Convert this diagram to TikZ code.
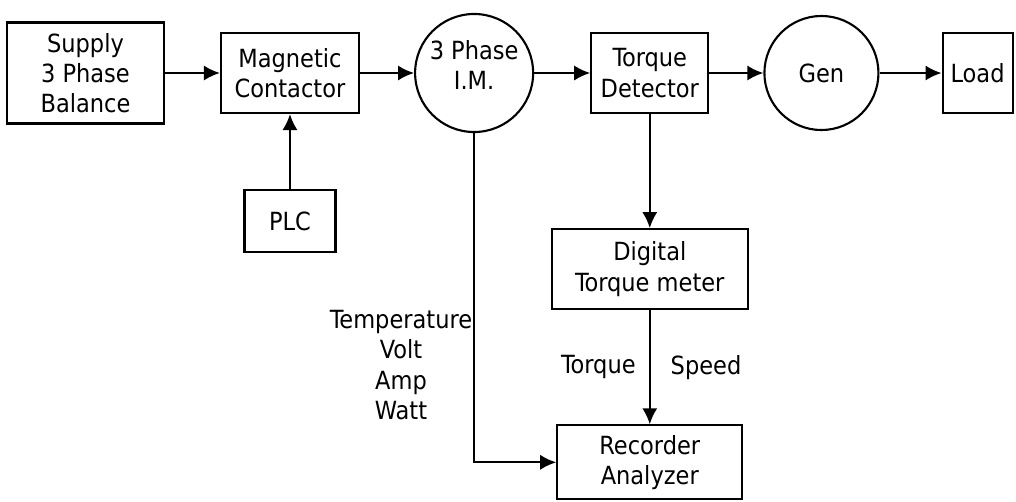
\documentclass[tikz,border=0pt]{standalone}
\usepackage{fontspec}
\setsansfont{DejaVu Sans Condensed}
\usetikzlibrary{arrows.meta,positioning}

\begin{document}
\begin{tikzpicture}[
  x=0.025cm, y=-0.025cm,
  font=\sffamily\fontsize{17.8}{21.5}\selectfont,
  box/.style={draw, line width=1.5pt, align=center, inner sep=2pt,
    minimum height=2cm},
  mach/.style={draw, circle, line width=1.5pt, align=center, inner sep=0pt},
  arr/.style={-{Latex[length=4mm,width=3.8mm]}, line width=1.5pt}
]
\useasboundingbox (0,0) rectangle (1016,501);
\node[box, minimum width=3.925cm, minimum height=2.525cm] (sup) at (85.5,73) {Supply\\3 Phase\\Balance};
\node[box, minimum width=3.45cm, right=1.37cm of sup] (mc) {Magnetic\\Contactor};
\node[mach, minimum size=2.95cm, right=1.35cm of mc,
  label={[align=center, yshift=0.2cm]center:3 Phase\\I.M.}] (im) {};
\node[box, minimum width=2.925cm, right=1.4cm of im] (td) {Torque\\Detector};
\node[mach, minimum size=2.85cm, right=1.35cm of td] (gen) {Gen};
\node[box, minimum width=1.75cm, inner xsep=1pt, right=1.55cm of gen] (load) {Load};
\node[box, minimum width=2.275cm, minimum height=1.55cm, below=1.875cm of mc] (plc) {PLC};
\node[box, minimum width=4.9cm, below=2.85cm of td] (dtm) {Digital\\Torque meter};
\node[box, minimum width=4.625cm, minimum height=1.85cm, below=2.85cm of dtm] (rec) {Recorder\\Analyzer};
\node[align=center] (meas) at (401,365) {Temperature\\Volt\\Amp\\Watt};
\draw[arr] (sup) -- (mc); \draw[arr] (mc) -- (im); \draw[arr] (im) -- (td);
\draw[arr] (td) -- (gen); \draw[arr] (gen) -- (load);
\draw[arr] (plc) -- (mc); \draw[arr] (td) -- (dtm);
\draw[arr] (dtm) -- (rec) node[midway, left=0.21cm] {Torque} node[midway, right=0.38cm] {Speed};
\draw[arr] (im.south) |- (rec.west);
\end{tikzpicture}
\end{document}
